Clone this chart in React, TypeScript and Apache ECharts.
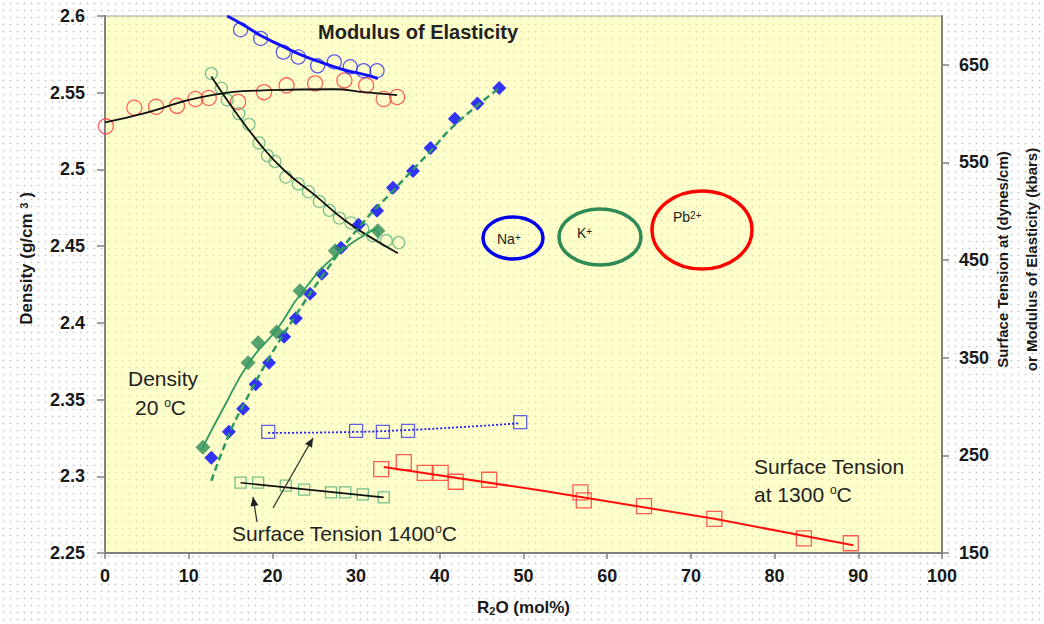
import React, { useEffect, useRef } from 'react';
import * as echarts from 'echarts';

const FONT = '"Liberation Sans", Arial, Helvetica, sans-serif';

// ---------- axes ----------
const xMin = 0;
const xMax = 100;
const xStep = 10;
const densMin = 2.25;
const densMax = 2.6;
const densStep = 0.05;
const rightMin = 150;
const rightMax = 700;
const rightTicks = [150, 250, 350, 450, 550, 650];

// ---------- Modulus of elasticity (right axis, kbars) ----------
const naModX = [16.2, 18.6, 21.3, 23.1, 25.4, 27.4, 29.3, 30.9, 32.5];
const naModY = [686, 677, 663, 658, 649, 653, 648, 644, 644];
const naModFitX = [14.6, 16.5, 18.6, 21.0, 23.5, 26.0, 28.5, 31.0, 32.6];
const naModFitY = [700, 691, 680, 670, 660, 652, 645, 640, 636];

const kModX = [12.7, 13.9, 14.6, 16.0, 17.2, 18.4, 19.4, 20.3, 21.6, 23.1, 24.3, 25.6, 26.8, 28.0, 29.4, 30.8, 32.0, 33.6, 35.1];
const kModY = [641, 626, 614, 600, 589, 570, 557, 551, 535, 528, 520, 510, 501, 493, 488, 482, 475, 470, 468];
const kModFitX = [12.7, 15.4, 18.4, 21.4, 25.0, 28.6, 31.8, 35.0];
const kModFitY = [638, 604, 570, 542, 517, 491, 473, 457];

const pbModX = [0.1, 3.5, 6.1, 8.6, 10.8, 12.4, 15.9, 19.0, 21.7, 25.1, 28.6, 31.2, 33.3, 34.9];
const pbModY = [587, 606, 607, 608, 615, 616, 612, 622, 629, 631, 634, 629, 615, 617];
const pbModFitX = [0, 5, 11.5, 19.5, 27.4, 31, 34.9];
const pbModFitY = [591, 601, 617, 624, 625, 622, 619];

// ---------- Density at 20 C (left axis) ----------
const naDenX = [12.7, 14.8, 16.5, 18.0, 19.6, 21.4, 22.8, 24.5, 25.9, 28.2, 30.3, 32.5, 34.4, 36.8, 38.9, 41.8, 44.5, 47.1];
const naDenY = [2.312, 2.329, 2.344, 2.36, 2.374, 2.391, 2.403, 2.419, 2.432, 2.449, 2.464, 2.473, 2.488, 2.499, 2.514, 2.533, 2.543, 2.553];
const naDenFitX = [12.7, 14.8, 16.5, 19.6, 22.8, 25.9, 30.3, 34.4, 38.9, 41.8, 47.1];
const naDenFitY = [2.297, 2.327, 2.346, 2.377, 2.405, 2.43, 2.462, 2.486, 2.512, 2.529, 2.553];

const kDenX = [11.7, 17.1, 18.3, 20.5, 23.3, 27.5, 32.6];
const kDenY = [2.319, 2.374, 2.387, 2.394, 2.421, 2.447, 2.46];
const kDenFitX = [11.5, 14.2, 17.2, 20.7, 23.4, 27.8, 32.6];
const kDenFitY = [2.317, 2.345, 2.374, 2.397, 2.419, 2.445, 2.462];

// ---------- Surface tension (right axis, dynes/cm) ----------
const naStX = [19.5, 30.0, 33.2, 36.2, 49.6];
const naStY = [274, 275, 274, 275, 284];
const naStFitX = [19.5, 30, 36.2, 44.6, 49.6];
const naStFitY = [273, 274, 276, 280, 283];

const kStX = [16.2, 18.3, 21.6, 23.8, 27.0, 28.7, 30.8, 33.3];
const kStY = [222, 222, 219, 215, 212, 212, 210, 207];
const kStFitX = [16.2, 33.3];
const kStFitY = [222, 207];

const pbStX = [33.0, 35.7, 38.2, 40.1, 41.9, 45.9, 56.8, 57.2, 64.4, 72.8, 83.5, 89.1];
const pbStY = [236, 243, 232, 232, 223, 225, 212, 204, 198, 185, 165, 160];
const pbStFitX = [33.3, 52.1, 72.8, 89.4];
const pbStFitY = [238, 214, 185, 158];

const zip = (xs: number[], ys: number[]) => xs.map((x, i) => [x, ys[i]]);

const markers = (data: number[][], yAxisIndex: number, symbol: string, size: number, color: string, filled: boolean, bw = 1.3) => ({
  type: 'scatter',
  yAxisIndex,
  data,
  symbol,
  symbolSize: size,
  itemStyle: filled
    ? { color }
    : { color: 'rgba(0,0,0,0)', borderColor: color, borderWidth: bw },
  z: 2,
});

const fit = (data: number[][], yAxisIndex: number, color: string, width: number, type: any = 'solid', smooth: any = true) => ({
  type: 'line',
  yAxisIndex,
  data,
  symbol: 'none',
  smooth,
  lineStyle: { color, width, type },
  z: 3,
});

const arrowHead = (x1: number, y1: number, x2: number, y2: number, len = 9, half = 4) => {
  const dx = x2 - x1;
  const dy = y2 - y1;
  const l = Math.sqrt(dx * dx + dy * dy);
  const ux = dx / l;
  const uy = dy / l;
  const bx = x2 - ux * len;
  const by = y2 - uy * len;
  return [
    [x2, y2],
    [bx - uy * half, by + ux * half],
    [bx + uy * half, by - ux * half],
  ];
};

const supRich = (size: number) => ({
  sup: { fontSize: size, fontFamily: FONT, fill: '#222', verticalAlign: 'top', lineHeight: size },
});

const annText = (x: number, y: number, text: string, size: number, bold = false, supSize = 12) => ({
  type: 'text',
  x,
  y,
  style: {
    text,
    font: `${bold ? 'bold ' : ''}${size}px ${FONT}`,
    fill: '#222',
    verticalAlign: 'middle',
    align: 'left',
    rich: supRich(supSize),
  },
  z: 10,
});

const arrow = (x1: number, y1: number, x2: number, y2: number) => [
  { type: 'line', shape: { x1, y1, x2, y2 }, style: { stroke: '#333', lineWidth: 1.3 }, z: 10 },
  { type: 'polygon', shape: { points: arrowHead(x1, y1, x2, y2) }, style: { fill: '#222' }, z: 10 },
];

const ellipse = (cx: number, cy: number, rx: number, ry: number, color: string) => ({
  type: 'ellipse',
  shape: { cx, cy, rx, ry },
  style: { fill: 'none', stroke: color, lineWidth: 3.5 },
  z: 10,
});

export default function App() {
  const ref = useRef<HTMLDivElement>(null);

  useEffect(() => {
    if (!ref.current) return;
    const chart = echarts.init(ref.current, undefined, { renderer: 'svg' });

    const axisLabelStyle = { fontFamily: FONT, fontSize: 18, fontWeight: 'bold', color: '#1a1a1a' };
    const axisLine = { show: true, lineStyle: { color: '#808080', width: 2 } };

    const option: any = {
      animation: false,
      backgroundColor: 'transparent',
      grid: {
        left: 105,
        right: 102,
        top: 16,
        bottom: 71,
        containLabel: false,
        outerBoundsMode: 'none',
        show: true,
        backgroundColor: 'rgba(255,255,140,0.45)',
        borderColor: '#a0a0a0',
        borderWidth: 1,
      },
      xAxis: {
        type: 'value',
        min: xMin,
        max: xMax,
        interval: xStep,
        axisLine,
        axisTick: { show: true, inside: false, length: 6, lineStyle: { color: '#808080', width: 1.5 } },
        splitLine: { show: false },
        axisLabel: { ...axisLabelStyle, margin: 14 },
        name: 'R{sub|2}O (mol%)',
        nameLocation: 'middle',
        nameGap: 46,
        nameTextStyle: {
          fontFamily: FONT,
          fontSize: 17,
          fontWeight: 'bold',
          color: '#1a1a1a',
          rich: { sub: { fontFamily: FONT, fontSize: 11, fontWeight: 'bold', color: '#1a1a1a', verticalAlign: 'bottom', lineHeight: 11 } },
        },
      },
      yAxis: [
        {
          type: 'value',
          position: 'left',
          min: densMin,
          max: densMax,
          interval: densStep,
          axisLine,
          axisTick: { show: true, inside: false, length: 8, lineStyle: { color: '#808080', width: 1.5 } },
          splitLine: { show: false },
          axisLabel: { ...axisLabelStyle, margin: 20 },
          name: 'Density (g/cm {sup|3} )',
          nameLocation: 'middle',
          nameRotate: 90,
          nameGap: 70,
          nameMoveOverlap: false,
          nameTextStyle: {
            fontFamily: FONT,
            fontSize: 17,
            fontWeight: 'bold',
            color: '#1a1a1a',
            padding: [0, 0, 0, 52],
            rich: { sup: { fontFamily: FONT, fontSize: 11, fontWeight: 'bold', color: '#1a1a1a', verticalAlign: 'top', lineHeight: 11 } },
          },
        },
        {
          type: 'value',
          position: 'right',
          min: rightMin,
          max: rightMax,
          axisLine,
          axisTick: { show: true, inside: false, length: 7, customValues: rightTicks, lineStyle: { color: '#808080', width: 1.5 } },
          splitLine: { show: false },
          axisLabel: { ...axisLabelStyle, margin: 17, customValues: rightTicks },
          name: 'Surface Tension at (dynes/cm)\nor Modulus of Elasticity (kbars)',
          nameLocation: 'middle',
          nameRotate: 90,
          nameGap: 46,
          nameMoveOverlap: false,
          nameTextStyle: { fontFamily: FONT, fontSize: 15, fontWeight: 'bold', color: '#1a1a1a', lineHeight: 29, padding: [0, 0, 0, 50] },
        },
      ],
      series: [
        // modulus
        markers(zip(pbModX, pbModY), 1, 'circle', 15, '#ff3b3b', false),
        markers(zip(naModX, naModY), 1, 'circle', 14, '#3535f0', false),
        markers(zip(kModX, kModY), 1, 'circle', 12, '#5cb585', false),
        fit(zip(pbModFitX, pbModFitY), 1, '#111', 1.8),
        fit(zip(naModFitX, naModFitY), 1, '#1010ff', 3),
        fit(zip(kModFitX, kModFitY), 1, '#111', 1.8),
        // density
        markers(zip(naDenX, naDenY), 0, 'diamond', 14, '#0000ff', true),
        markers(zip(kDenX, kDenY), 0, 'diamond', 15, '#2e8b57', true),
        fit(zip(naDenFitX, naDenFitY), 0, '#2e9960', 2.5, [7, 4]),
        fit(zip(kDenFitX, kDenFitY), 0, '#2e9960', 1.8),
        // surface tension
        markers(zip(naStX, naStY), 1, 'rect', 13, '#3a3aee', false),
        markers(zip(kStX, kStY), 1, 'rect', 11, '#4fb07a', false),
        markers(zip(pbStX, pbStY), 1, 'rect', 15, '#ff3535', false),
        fit(zip(naStFitX, naStFitY), 1, '#2222ee', 1.8, [2, 2]),
        fit(zip(kStFitX, kStFitY), 1, '#111', 1.6, 'solid', false),
        fit(zip(pbStFitX, pbStFitY), 1, '#ff1010', 2, 'solid', false),
      ],
      graphic: [
        annText(318, 32, 'Modulus of Elasticity', 20, true),
        annText(128, 378, 'Density', 21),
        annText(135, 407, '20 {sup|o}C', 21),
        annText(754, 466, 'Surface Tension', 21),
        annText(754, 494, 'at 1300 {sup|o}C', 21),
        annText(232, 533, 'Surface Tension 1400{sup|o}C', 21),
        ellipse(513, 238, 30, 21, '#0000ee'),
        ellipse(600, 237, 41, 28, '#2e8b57'),
        ellipse(702, 230, 50, 39, '#ff0000'),
        annText(497, 239, 'Na{sup|+}', 14, false, 10),
        annText(577, 233, 'K{sup|+}', 14, false, 10),
        annText(673, 217, 'Pb{sup|2+}', 14, false, 10),
        ...arrow(257, 522, 253, 497),
        ...arrow(273, 508, 313, 438),
      ],
    };

    chart.setOption(option);
    return () => chart.dispose();
  }, []);

  return (
    <div
      style={{
        position: 'fixed',
        left: 0,
        top: 0,
        width: 1044,
        height: 624,
        backgroundColor: '#ffffff',
        backgroundImage: 'radial-gradient(circle, #c4c4c4 0.8px, transparent 1.1px)',
        backgroundSize: '7px 7px',
      }}
    >
      <div ref={ref} style={{ width: 1044, height: 624 }} />
    </div>
  );
}
